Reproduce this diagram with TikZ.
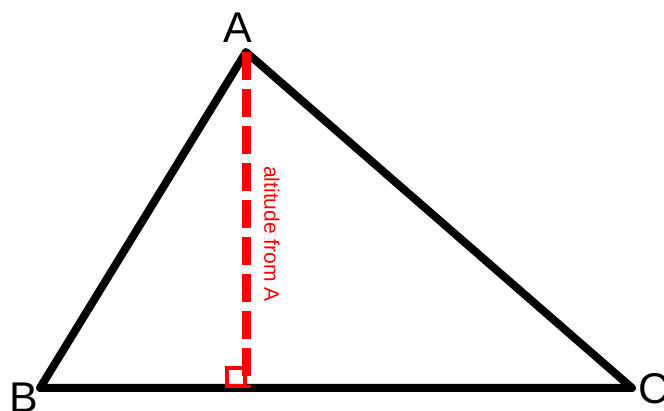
\documentclass[tikz,border=0pt]{standalone}
\usepackage{fontspec}
\setmainfont{Liberation Sans}
\usetikzlibrary{positioning}

\begin{document}
\begin{tikzpicture}[x=1pt, y=-1pt,
  side/.style={draw=black, line width=8pt, line join=round},
  altline/.style={draw=red, line width=9pt, dash pattern=on 28pt off 9pt},
  rightmark/.style={draw=red, line width=3.5pt},
  vlabel/.style={font=\fontsize{43}{43}\selectfont, inner sep=0pt},
  altlabel/.style={font=\fontsize{21}{21}\selectfont, text=red, rotate=-90, inner sep=0pt}
]
  \useasboundingbox (0,0) rectangle (664,411);

  % vertices
  \coordinate (A) at (246,52);
  \coordinate (B) at (40,388);
  \coordinate (C) at (632,388);
  \coordinate (H) at (246,388);

  % triangle
  \draw[side] (A) -- (B) -- (C) -- cycle;

  % altitude from A
  \draw[altline] (A) -- (H);
  \draw[rightmark] (227,368) rectangle (245,386);
  \node[altlabel] (alt) at (272,234) {altitude from A};

  % labels
  \node[vlabel] (la) at (238,28) {A};
  \node[vlabel] (lb) at (24,398) {B};
  \node[vlabel] (lc) at (654,389) {C};
\end{tikzpicture}
\end{document}
